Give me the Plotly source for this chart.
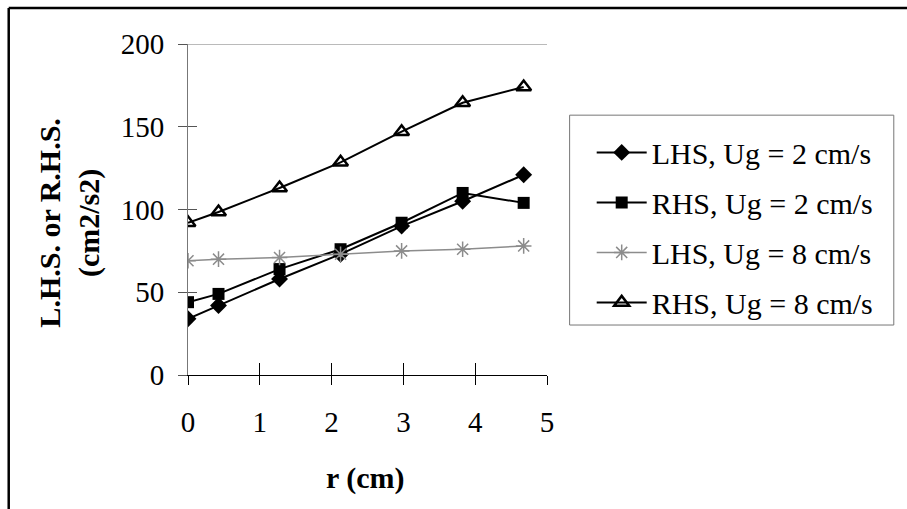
import plotly.graph_objects as go

r_cm = [0, 0.425, 1.275, 2.125, 2.975, 3.825, 4.675]
lhs_ug2 = [34, 42, 58, 73, 90, 105, 121]
rhs_ug2 = [44, 49, 64, 76, 92, 110, 104]
lhs_ug8 = [69, 70, 71, 73, 75, 76, 78]
rhs_ug8 = [92, 98.5, 113, 128.5, 147, 164.5, 174]

x_ticks = [0, 1, 2, 3, 4, 5]
y_ticks = [0, 50, 100, 150, 200]

FONT = "Liberation Serif"
FS = 29

fig = go.Figure()
fig.add_trace(go.Scatter(x=r_cm, y=lhs_ug2, name="LHS, Ug = 2 cm/s", legendgroup="a",
                         mode="lines+markers",
                         line=dict(color="black", width=2),
                         marker=dict(symbol="diamond", size=13, color="black")))
fig.add_trace(go.Scatter(x=r_cm, y=rhs_ug2, name="RHS, Ug = 2 cm/s", legendgroup="b",
                         mode="lines+markers",
                         line=dict(color="black", width=2),
                         marker=dict(symbol="square", size=12, color="black")))
fig.add_trace(go.Scatter(x=r_cm, y=lhs_ug8, name="LHS, Ug = 8 cm/s", legendgroup="c",
                         mode="lines+markers",
                         line=dict(color="#8c8c8c", width=1.5),
                         marker=dict(symbol="asterisk-open", size=13,
                                     line=dict(color="#8c8c8c", width=1.5))))
fig.add_trace(go.Scatter(x=r_cm, y=rhs_ug8, name="RHS, Ug = 8 cm/s", legendgroup="d",
                         mode="lines+markers",
                         line=dict(color="black", width=2),
                         marker=dict(symbol="triangle-up-open", size=13, color="black",
                                     line=dict(color="black", width=2.5))))
# dummy trace to activate overlay axes (cross ticks)
fig.add_trace(go.Scatter(x=[None], y=[None], xaxis="x2", yaxis="y2",
                         showlegend=False, hoverinfo="skip"))

fig.update_layout(
    width=907, height=509,
    margin=dict(l=188, r=360, t=44, b=134),
    paper_bgcolor="white", plot_bgcolor="white",
    font=dict(family=FONT, size=FS, color="black"),
    showlegend=True,
    legend=dict(x=1.1245, y=0.751, xanchor="left", yanchor="top",
                borderwidth=0, bgcolor="rgba(0,0,0,0)",
                font=dict(family=FONT, size=30, color="black"),
                itemwidth=50, tracegroupgap=8, traceorder="grouped"),
    xaxis=dict(range=[0, 5], tickvals=x_ticks, ticktext=[str(v) for v in x_ticks],
               showgrid=False, zeroline=False, showline=True, linecolor="black",
               linewidth=1, ticks="outside", ticklen=9, tickcolor="black",
               tickfont=dict(family=FONT, size=FS), anchor="y", position=0,
               ticklabelstandoff=12),
    yaxis=dict(range=[0, 200], tickvals=y_ticks, ticktext=[str(v) for v in y_ticks],
               showgrid=False, zeroline=False, showline=True, linecolor="#777777",
               linewidth=1, ticks="outside", ticklen=9, tickcolor="#555555",
               tickfont=dict(family=FONT, size=FS), ticklabelstandoff=8),
    xaxis2=dict(range=[0, 5], tickvals=x_ticks, overlaying="x", anchor="y", side="bottom",
                showticklabels=False, showgrid=False, zeroline=False, showline=False,
                ticks="inside", ticklen=12, tickcolor="black"),
    yaxis2=dict(range=[0, 200], tickvals=y_ticks[1:], overlaying="y", anchor="x", side="left",
                showticklabels=False, showgrid=False, zeroline=False, showline=False,
                ticks="inside", ticklen=9, tickcolor="#555555"),
    shapes=[
        dict(type="line", xref="paper", yref="y", x0=0, x1=1, y0=200, y1=200,
             line=dict(color="#777777", width=1)),
        dict(type="line", xref="paper", yref="paper", x0=-0.4994, x1=2.01,
             y0=1.1088, y1=1.1088, line=dict(color="black", width=2.5)),
        dict(type="line", xref="paper", yref="paper", x0=-0.4994, x1=-0.4994,
             y0=1.1088, y1=-0.41, line=dict(color="black", width=2.5)),
        dict(type="rect", xref="paper", yref="paper", x0=1.063, x1=1.966,
             y0=0.151, y1=0.785, line=dict(color="#777777", width=1)),
    ],
    annotations=[
        dict(text="<b>r (cm)</b>", xref="paper", yref="paper", x=0.495, y=-0.311,
             xanchor="center", yanchor="middle", showarrow=False,
             font=dict(family=FONT, size=30)),
        dict(text="<b>L.H.S. or R.H.S.<br>(cm2/s2)</b>", xref="paper", yref="paper",
             x=-0.329, y=0.46, xanchor="center", yanchor="middle", textangle=-90,
             showarrow=False, font=dict(family=FONT, size=30)),
    ],
)

fig.write_html("out.html")
